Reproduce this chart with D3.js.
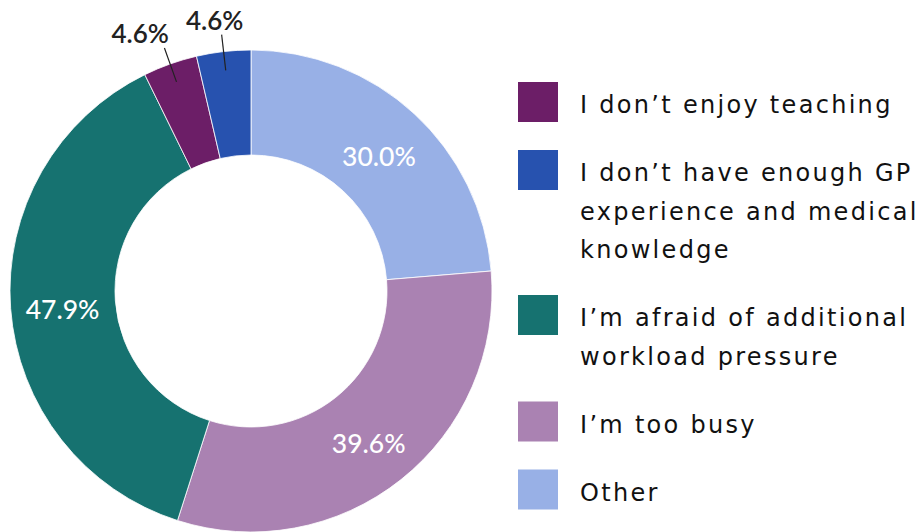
<!DOCTYPE html>
<html>
<head>
<meta charset="utf-8">
<script src="https://cdn.jsdelivr.net/npm/d3@7"></script>
<style>
  html, body { margin: 0; padding: 0; background: #fff; }
  svg { display: block; font-family: "Lato", "Open Sans", sans-serif; }
  .legend-text { font-family: "DejaVu Sans", "Open Sans", sans-serif; letter-spacing: 2.3px; }
</style>
</head>
<body>
<svg id="chart" width="923" height="532"></svg>
<script>
// Reasons for not teaching (share of respondents, multiple answers allowed)
const categories = [
  "Other",
  "I\u2019m too busy",
  "I\u2019m afraid of additional workload pressure",
  "I don\u2019t enjoy teaching",
  "I don\u2019t have enough GP experience and medical knowledge"
];
const values = [30.0, 39.6, 47.9, 4.6, 4.6];
const colors = ["#98b0e6", "#aa82b2", "#167270", "#6c1e67", "#2752af"];

// Legend order and wrapped legend lines
const legendOrder = [3, 4, 2, 1, 0];
const legendLines = [
  ["Other"],
  ["I\u2019m too busy"],
  ["I\u2019m afraid of additional", "workload pressure"],
  ["I don\u2019t enjoy teaching"],
  ["I don\u2019t have enough GP", "experience and medical", "knowledge"]
];

const svg = d3.select("#chart");
const cx = 251, cy = 291;
const outerR = 241, innerR = 136;
const labelR = 189;

const data = categories.map((c, i) => ({ name: c, value: values[i], color: colors[i], idx: i }));

const pie = d3.pie().sort(null).value(d => d.value);
const arcs = pie(data);

const arc = d3.arc().innerRadius(innerR).outerRadius(outerR);
const labelArc = d3.arc().innerRadius(labelR).outerRadius(labelR);

const g = svg.append("g").attr("transform", `translate(${cx},${cy})`);

g.selectAll("path.slice")
  .data(arcs)
  .join("path")
  .attr("class", "slice")
  .attr("d", arc)
  .attr("fill", d => d.data.color)
  .attr("stroke", "#ffffff")
  .attr("stroke-width", 0.8);

const fmt = v => v.toFixed(1) + "%";
const smallLimit = 0.3; // radians; thinner slices get an outside label

// Inside labels for the wide slices
g.selectAll("text.inside")
  .data(arcs.filter(d => d.endAngle - d.startAngle >= smallLimit))
  .join("text")
  .attr("class", "inside")
  .attr("transform", d => {
    const [x, y] = labelArc.centroid(d);
    return `translate(${x},${y + 5})`;
  })
  .attr("text-anchor", "middle")
  .attr("dy", "0.36em")
  .attr("fill", "#ffffff")
  .attr("font-size", 26.5)
  .attr("font-weight", 500)
  .text(d => fmt(d.data.value));

// Outside labels with leader lines for the thin slices
const small = arcs.filter(d => d.endAngle - d.startAngle < smallLimit);
const lineIn = 222, lineOut = 258;
const polar = (r, a) => [r * Math.sin(a), -r * Math.cos(a)];

const outer = small.map(d => {
  const a = (d.startAngle + d.endAngle) / 2;
  return { d, a, p0: polar(lineIn, a), p1: polar(lineOut, a) };
});

g.selectAll("line.leader")
  .data(outer)
  .join("line")
  .attr("class", "leader")
  .attr("x1", o => o.p0[0]).attr("y1", o => o.p0[1])
  .attr("x2", o => o.p1[0]).attr("y2", o => o.p1[1])
  .attr("stroke", "#222")
  .attr("stroke-width", 1.2);

const outText = g.selectAll("text.outside")
  .data(outer)
  .join("text")
  .attr("class", "outside")
  .attr("text-anchor", "middle")
  .attr("fill", "#222")
  .attr("font-size", 26)
  .attr("font-weight", 600)
  .text(o => fmt(o.d.data.value));

// place each label above its leader end, pushing overlapping labels apart
outText.each(function(o) {
  o.w = this.getComputedTextLength();
  o.x = o.p1[0] - 7;
  o.y = o.p1[1] - 5;
});
const sorted = outer.slice().sort((a, b) => b.x - a.x);
for (let i = 1; i < sorted.length; i++) {
  const right = sorted[i - 1], left = sorted[i];
  const gap = 17;
  const maxX = right.x - right.w / 2 - gap - left.w / 2;
  if (left.x > maxX) left.x = maxX;
}
outText.attr("x", o => o.x).attr("y", o => o.y);

// Legend
const legend = svg.append("g").attr("transform", "translate(518,0)");
const lineH = 38.5, itemGap = 68, firstBaseline = 113;
let baseline = firstBaseline;
legendOrder.forEach(i => {
  const item = legend.append("g");
  item.append("rect")
    .attr("x", 0)
    .attr("y", baseline - 31)
    .attr("width", 40)
    .attr("height", 40)
    .attr("fill", colors[i]);
  const t = item.append("text")
    .attr("class", "legend-text")
    .attr("x", 62)
    .attr("y", baseline)
    .attr("fill", "#111")
    .attr("font-size", 24);
  legendLines[i].forEach((ln, k) => {
    t.append("tspan").attr("x", 62).attr("y", baseline + k * lineH).text(ln);
  });
  baseline += (legendLines[i].length - 1) * lineH + itemGap;
});
</script>
</body>
</html>
